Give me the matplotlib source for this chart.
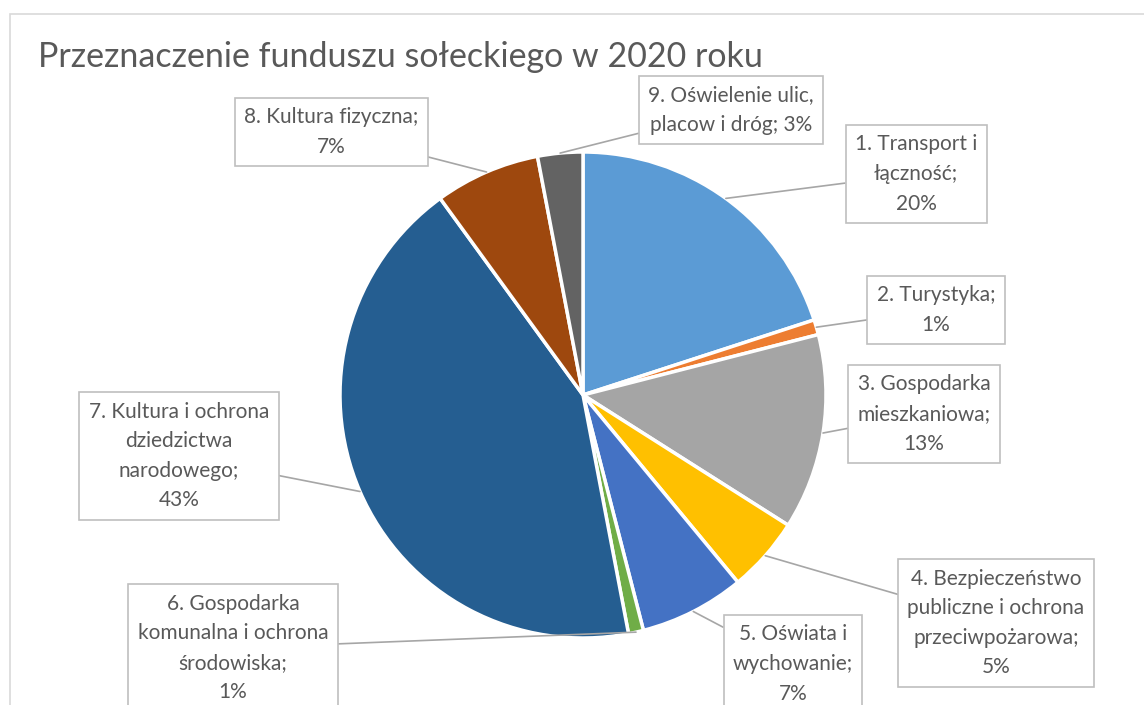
import numpy as np
import matplotlib
matplotlib.use("Agg")
import matplotlib.pyplot as plt
from matplotlib.patches import Rectangle

plt.rcParams['font.family'] = ['Lato', 'DejaVu Sans']

title = "Przeznaczenie funduszu sołeckiego w 2020 roku"
labels = ["1. Transport i\nłączność;\n20%",
          "2. Turystyka;\n1%",
          "3. Gospodarka\nmieszkaniowa;\n13%",
          "4. Bezpieczeństwo\npubliczne i ochrona\nprzeciwpożarowa;\n5%",
          "5. Oświata i\nwychowanie;\n7%",
          "6. Gospodarka\nkomunalna i ochrona\nśrodowiska;\n1%",
          "7. Kultura i ochrona\ndziedzictwa\nnarodowego;\n43%",
          "8. Kultura fizyczna;\n7%",
          "9. Oświelenie ulic,\nplacow i dróg; 3%"]
values = [20, 1, 13, 5, 7, 1, 43, 7, 3]
colors = ["#5B9BD5", "#ED7D31", "#A5A5A5", "#FFC000", "#4472C4",
          "#70AD47", "#255E91", "#9E480E", "#636363"]

# label box centres in pixels (x, y from top)
box_px = [(916, 174), (936, 310), (924, 414), (996, 623), (793, 664),
          (233, 648), (179, 456), (331, 132), (731, 110)]

W, H = 1144, 705
cx, cy, r = 583, 395, 243

fig = plt.figure(figsize=(W / 100, H / 100), dpi=100)

# chart area border (only top and left are visible)
fig.patches.append(Rectangle((10 / W, -0.1), 1.2, 1 - 14 / H + 0.1,
                             transform=fig.transFigure, fill=False,
                             edgecolor="#D9D9D9", linewidth=1.2))

ax = fig.add_axes([(cx - r) / W, (H - cy - r) / H, 2 * r / W, 2 * r / H])
wedges, _ = ax.pie(values, colors=colors, startangle=90, counterclock=False,
                   radius=1, wedgeprops=dict(edgecolor="white", linewidth=2.5))
ax.set_xlim(-1, 1)
ax.set_ylim(-1, 1)
ax.set_aspect("equal")
ax.axis("off")

for w, lab, (bx, by) in zip(wedges, labels, box_px):
    mid = np.deg2rad((w.theta1 + w.theta2) / 2)
    px, py = np.cos(mid), np.sin(mid)
    tx, ty = (bx - cx) / r, (cy - by) / r
    ax.annotate(lab, xy=(px, py), xytext=(tx, ty), ha="center", va="center",
                fontsize=15, color="#595959", linespacing=1.6,
                annotation_clip=False,
                bbox=dict(boxstyle="square,pad=0.45", fc="white",
                          ec="#BFBFBF", lw=1.2),
                arrowprops=dict(arrowstyle="-", color="#A6A6A6", lw=1.2,
                                shrinkA=0, shrinkB=0))

fig.text(38 / W, 1 - 57 / H, title, fontsize=24.5, color="#595959",
         ha="left", va="center")

fig.savefig("out.png", dpi=100)
